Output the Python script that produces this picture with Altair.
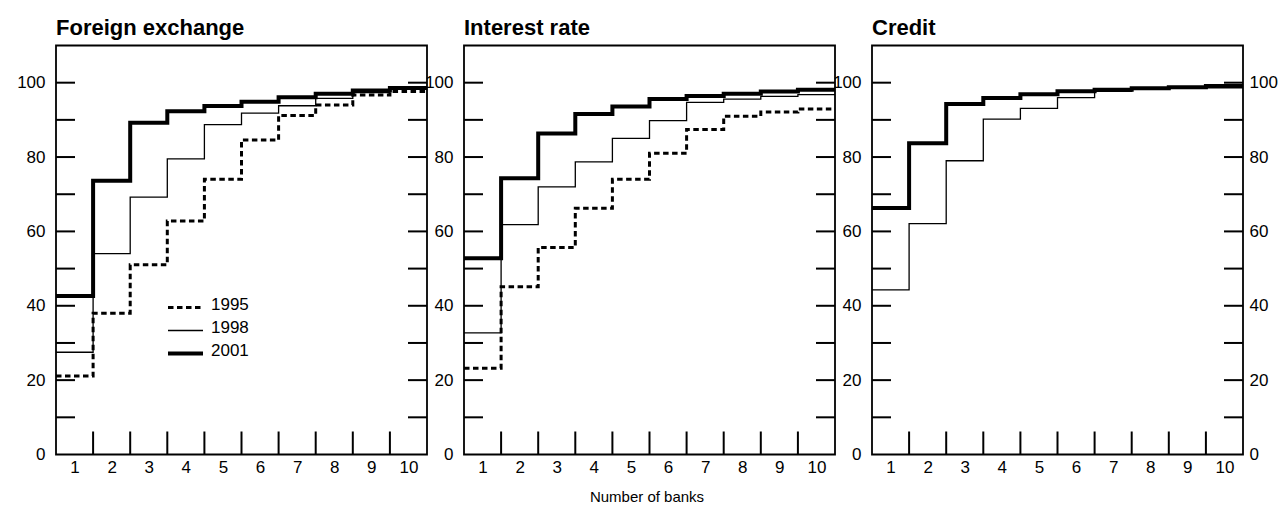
import altair as alt
import pandas as pd

# ---------------- data ----------------
banks = list(range(1, 11))
years = ["1995", "1998", "2001"]

fx_1995 = [21.1, 38.0, 51.0, 62.8, 74.0, 84.6, 91.2, 94.0, 96.7, 97.6]
fx_1998 = [27.5, 54.0, 69.2, 79.5, 88.7, 91.8, 93.8, 95.8, 97.3, 98.3]
fx_2001 = [42.6, 73.6, 89.2, 92.3, 93.7, 94.9, 96.1, 97.0, 97.9, 98.6]

ir_1995 = [23.2, 45.1, 55.7, 66.2, 74.0, 81.0, 87.4, 91.0, 92.1, 92.9]
ir_1998 = [32.7, 61.8, 72.0, 78.7, 85.0, 89.8, 94.7, 95.6, 96.3, 96.8]
ir_2001 = [52.8, 74.3, 86.3, 91.6, 93.6, 95.6, 96.4, 97.0, 97.6, 98.1]

cr_1998 = [44.3, 62.1, 79.0, 90.2, 93.1, 96.0, 97.7, 98.2, 98.6, 98.6]
cr_2001 = [66.3, 83.7, 94.3, 95.9, 96.9, 97.7, 98.1, 98.5, 98.8, 99.1]

panel_titles = ["Foreign exchange", "Interest rate", "Credit"]
panel_series = [
    {"1995": fx_1995, "1998": fx_1998, "2001": fx_2001},
    {"1995": ir_1995, "1998": ir_1998, "2001": ir_2001},
    {"1998": cr_1998, "2001": cr_2001},
]

y_label_values = [0, 20, 40, 60, 80, 100]
y_tick_values = [10, 20, 30, 40, 50, 60, 70, 80, 90, 100]
x_tick_values = [1.5, 2.5, 3.5, 4.5, 5.5, 6.5, 7.5, 8.5, 9.5]
x_axis_title = "Number of banks"

# ---------------- styling ----------------
FONT = "Liberation Sans"
W, H = 371, 409
X_LO, X_HI = 0.5, 10.5
Y_LO, Y_HI = 0, 110
styles = {
    "1995": dict(strokeWidth=3, strokeDash=[5.5, 3.5]),
    "1998": dict(strokeWidth=1.3),
    "2001": dict(strokeWidth=4),
}

xscale = alt.Scale(domain=[X_LO, X_HI], nice=False, zero=False)
yscale = alt.Scale(domain=[Y_LO, Y_HI], nice=False)


def step_table(vals):
    xs = [b - 0.5 for b in banks] + [banks[-1] + 0.5]
    ys = list(vals) + [vals[-1]]
    return pd.DataFrame({"x": xs, "y": ys})


def panel(title, series, right_labels, with_legend):
    layers = []
    # left ticks (carry the left axis labels)
    layers.append(
        alt.Chart(pd.DataFrame({"t": y_tick_values}))
        .mark_rule(color="black", strokeWidth=2, x2Offset=19)
        .encode(
            y=alt.Y("t:Q", scale=yscale,
                    axis=alt.Axis(orient="left", values=y_label_values, title=None,
                                  ticks=False, tickSize=0, domain=False, grid=False,
                                  labelPadding=11)),
            x=alt.X(datum=X_LO, scale=xscale, axis=None),
            x2=alt.X2(datum=X_LO),
        )
    )
    # right ticks
    right_axis = (alt.Axis(orient="right", values=y_label_values, title=None,
                           ticks=False, tickSize=0, domain=False, grid=False,
                           labelPadding=6)
                  if right_labels else None)
    layers.append(
        alt.Chart(pd.DataFrame({"t": y_tick_values}))
        .mark_rule(color="black", strokeWidth=2, xOffset=-19)
        .encode(
            y=alt.Y("t:Q", scale=yscale, axis=right_axis),
            x=alt.X(datum=X_HI, scale=xscale, axis=None),
            x2=alt.X2(datum=X_HI),
        )
    )
    # bottom ticks (carry the x axis labels)
    layers.append(
        alt.Chart(pd.DataFrame({"t": x_tick_values}))
        .mark_rule(color="black", strokeWidth=2, yOffset=-23)
        .encode(
            x=alt.X("t:Q", scale=xscale,
                    axis=alt.Axis(orient="bottom", values=banks, title=None,
                                  ticks=False, tickSize=0, domain=False, grid=False,
                                  labelPadding=5, labelFlush=False)),
            y=alt.Y(datum=Y_LO, scale=yscale, axis=None),
            y2=alt.Y2(datum=Y_LO),
        )
    )
    # step lines
    for year in years:
        if year not in series:
            continue
        layers.append(
            alt.Chart(step_table(series[year]))
            .mark_line(interpolate="step-after", color="black", **styles[year])
            .encode(
                x=alt.X("x:Q", scale=xscale, axis=None),
                y=alt.Y("y:Q", scale=yscale, axis=None),
            )
        )
    if with_legend:
        rule_y = [262, 285, 308]
        for i, year in enumerate(years):
            layers.append(
                alt.Chart(pd.DataFrame({"k": [0]}))
                .mark_rule(color="black", xOffset=112, x2Offset=147,
                           yOffset=rule_y[i], **styles[year])
                .encode(
                    x=alt.X(datum=X_LO, scale=xscale, axis=None),
                    x2=alt.X2(datum=X_LO),
                    y=alt.Y(datum=Y_HI, scale=yscale, axis=None),
                )
            )
            layers.append(
                alt.Chart(pd.DataFrame({"k": [0]}))
                .mark_text(text=year, align="left", baseline="middle",
                           fontSize=17, font=FONT, color="black",
                           dx=155, dy=rule_y[i] - 3)
                .encode(
                    x=alt.X(datum=X_LO, scale=xscale, axis=None),
                    y=alt.Y(datum=Y_HI, scale=yscale, axis=None),
                )
            )
    return (
        alt.layer(*layers)
        .resolve_axis(x="independent", y="independent")
        .properties(
            width=W, height=H,
            title=alt.TitleParams(text=title, anchor="start", frame="group",
                                  fontSize=22, fontWeight="bold", font=FONT,
                                  color="black", baseline="alphabetic", offset=-11),
        )
    )


charts = [
    panel(panel_titles[i], panel_series[i], right_labels=(i == 2), with_legend=(i == 0))
    for i in range(3)
]

chart = (
    alt.hconcat(*charts, spacing=37, bounds="flush")
    .properties(
        title=alt.TitleParams(text=x_axis_title, orient="bottom", anchor="middle",
                              frame="bounds", fontSize=15, fontWeight="normal",
                              font=FONT, color="black", baseline="top", offset=14),
        padding={"left": 7, "top": 7.5, "right": 0, "bottom": 0},
    )
    .configure_view(stroke="black", strokeWidth=1.8)
    .configure_axis(labelFont=FONT, labelFontSize=17, labelColor="black")
)

chart.save("out.html", embed_options={"renderer": "svg", "actions": False})
